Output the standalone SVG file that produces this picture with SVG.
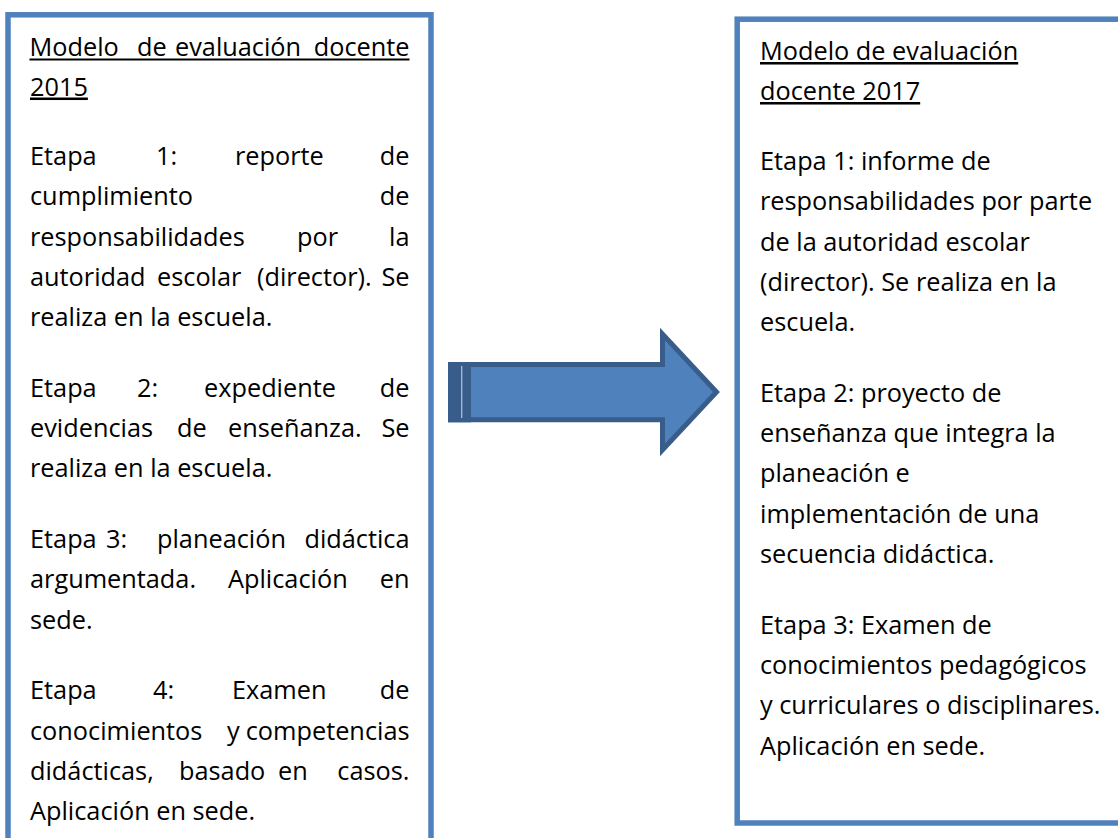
<svg xmlns="http://www.w3.org/2000/svg" width="1118" height="838" viewBox="0 0 1118 838">
  <style>
    .box { fill: #ffffff; stroke: #4F81BD; stroke-width: 5.5; }
    .t { font-family: "Open Sans", "Noto Sans", "Liberation Sans", sans-serif; font-size: 25.3px; fill: #000000; }
    .u { text-decoration: underline; }
    .e { text-anchor: end; }
    .ul { stroke: #000000; stroke-width: 1.8; }
  </style>
  <rect x="0" y="0" width="1118" height="838" fill="#ffffff"/>

  <g id="node-2015">
    <rect class="box" x="8" y="14.8" width="423" height="900"/>
    <text class="t" y="55.5"><tspan x="29.5">Modelo</tspan><tspan x="137">de</tspan><tspan x="175">evaluación</tspan><tspan x="409.5" class="e">docente</tspan></text>
    <line class="ul" x1="29.5" y1="59.5" x2="409.5" y2="59.5"/>
    <text class="t u" x="30" y="95.5">2015</text>

    <text class="t" y="165"><tspan x="30">Etapa</tspan><tspan x="156">1:</tspan><tspan x="235">reporte</tspan><tspan x="409.5" class="e">de</tspan></text>
    <text class="t" y="205.3"><tspan x="30">cumplimiento</tspan><tspan x="409.5" class="e">de</tspan></text>
    <text class="t" y="245.6"><tspan x="30">responsabilidades</tspan><tspan x="297">por</tspan><tspan x="409.5" class="e">la</tspan></text>
    <text class="t" y="285.9"><tspan x="30">autoridad</tspan><tspan x="157">escolar</tspan><tspan x="257">(director).</tspan><tspan x="409.5" class="e">Se</tspan></text>
    <text class="t" x="30" y="326.2">realiza en la escuela.</text>

    <text class="t" y="396.8"><tspan x="30">Etapa</tspan><tspan x="137">2:</tspan><tspan x="204">expediente</tspan><tspan x="409.5" class="e">de</tspan></text>
    <text class="t" y="437.1"><tspan x="30">evidencias</tspan><tspan x="177">de</tspan><tspan x="228">enseñanza.</tspan><tspan x="409.5" class="e">Se</tspan></text>
    <text class="t" x="30" y="477.4">realiza en la escuela.</text>

    <text class="t" y="548"><tspan x="30">Etapa</tspan><tspan x="106">3:</tspan><tspan x="157">planeación</tspan><tspan x="409.5" class="e">didáctica</tspan></text>
    <text class="t" y="588.3"><tspan x="30">argumentada.</tspan><tspan x="228">Aplicación</tspan><tspan x="409.5" class="e">en</tspan></text>
    <text class="t" x="30" y="628.6">sede.</text>

    <text class="t" y="699.2"><tspan x="30">Etapa</tspan><tspan x="153">4:</tspan><tspan x="232">Examen</tspan><tspan x="409.5" class="e">de</tspan></text>
    <text class="t" y="739.5"><tspan x="30">conocimientos</tspan><tspan x="227">y</tspan><tspan x="409.5" class="e">competencias</tspan></text>
    <text class="t" y="779.8"><tspan x="30">didácticas,</tspan><tspan x="179">basado</tspan><tspan x="278">en</tspan><tspan x="409.5" class="e">casos.</tspan></text>
    <text class="t" x="30" y="820.1">Aplicación en sede.</text>
  </g>

  <g id="node-2017">
    <rect class="box" x="737.2" y="19.2" width="420" height="803.8"/>
    <text class="t u" x="760" y="60">Modelo de evaluación</text>
    <text class="t u" x="760" y="100">docente 2017</text>

    <text class="t" x="760" y="170">Etapa 1: informe de</text>
    <text class="t" x="760" y="210.3">responsabilidades por parte</text>
    <text class="t" x="760" y="250.6">de la autoridad escolar</text>
    <text class="t" x="760" y="290.9">(director). Se realiza en la</text>
    <text class="t" x="760" y="331.2">escuela.</text>

    <text class="t" x="760" y="401.8">Etapa 2: proyecto de</text>
    <text class="t" x="760" y="442.1">enseñanza que integra la</text>
    <text class="t" x="760" y="482.4">planeación e</text>
    <text class="t" x="760" y="522.7">implementación de una</text>
    <text class="t" x="760" y="563">secuencia didáctica.</text>

    <text class="t" x="760" y="633.6">Etapa 3: Examen de</text>
    <text class="t" x="760" y="673.9">conocimientos pedagógicos</text>
    <text class="t" x="760" y="714.2">y curriculares o disciplinares.</text>
    <text class="t" x="760" y="754.5">Aplicación en sede.</text>
  </g>

  <g id="connectors">
    <polygon points="450.5,364.5 662.5,364.5 662.5,334 716.5,392 662.5,450 662.5,419.8 450.5,419.8" fill="#4F81BD" stroke="#385D8A" stroke-width="5" stroke-linejoin="miter"/>
    <rect x="448" y="362" width="23" height="60.3" fill="#385D8A"/>
    <line x1="461.7" y1="366" x2="461.7" y2="418" stroke="#9DB7DA" stroke-width="1.4"/>
  </g>
</svg>
